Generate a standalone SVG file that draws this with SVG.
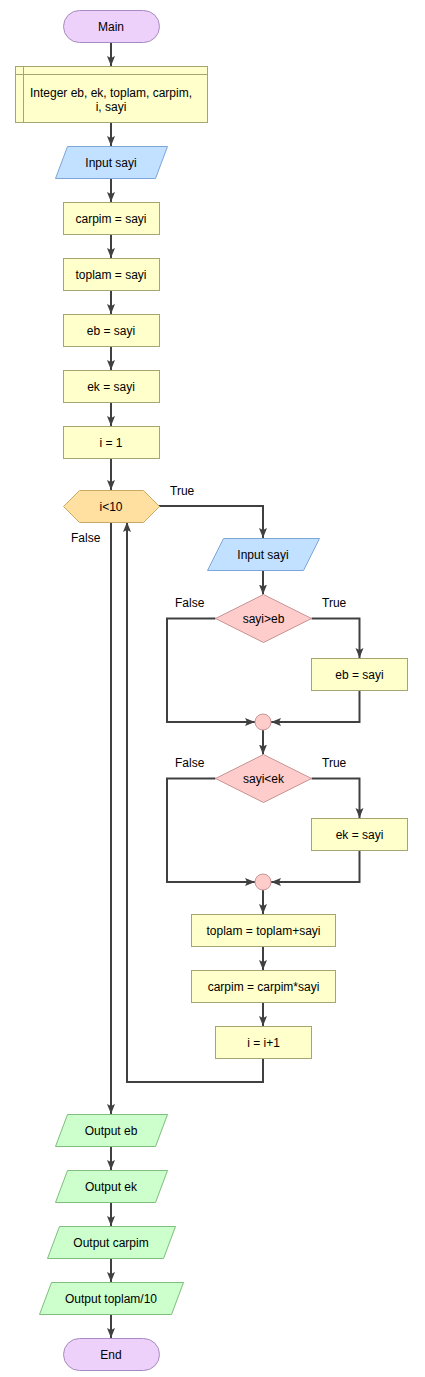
<svg xmlns="http://www.w3.org/2000/svg" width="425" height="1377" viewBox="0 0 425 1377">
<style>
text{font-family:"Liberation Sans",Arial,sans-serif;font-size:12px;fill:#000}
.c{text-anchor:middle}
.term{fill:#EDD1FB;stroke:#A88BBE;stroke-width:1}
.proc{fill:#FFFFCC;stroke:#A5A573;stroke-width:1}
.in{fill:#C2E0FF;stroke:#7BA6D8;stroke-width:1}
.out{fill:#CCFFCC;stroke:#7DBE7D;stroke-width:1}
.dec{fill:#FFCCCC;stroke:#C99494;stroke-width:1}
.loop{fill:#FFE0A0;stroke:#C9A966;stroke-width:1}
.conn{fill:none;stroke:#404040;stroke-width:2;marker-end:url(#ah)}
</style>
<defs>
<marker id="ah" markerWidth="10" markerHeight="10" refX="10" refY="5" orient="auto" markerUnits="userSpaceOnUse">
<path d="M0,1 L10,5 L0,9 L2,5 z" fill="#404040"/>
</marker>
</defs>
<g id="connectors">
<polyline class="conn" points="111,42 111,66"/>
<polyline class="conn" points="111,122 111,146"/>
<polyline class="conn" points="111,178 111,202"/>
<polyline class="conn" points="111,234 111,258"/>
<polyline class="conn" points="111,290 111,314"/>
<polyline class="conn" points="111,346 111,370"/>
<polyline class="conn" points="111,402 111,426"/>
<polyline class="conn" points="111,458 111,490"/>
<polyline class="conn" points="159,506 263,506 263,538"/>
<polyline class="conn" points="263,570 263,594.5"/>
<polyline class="conn" points="215.5,618.5 167,618.5 167,722 255,722"/>
<polyline class="conn" points="311.5,618.5 359.5,618.5 359.5,658"/>
<polyline class="conn" points="359.5,690 359.5,722 271,722"/>
<polyline class="conn" points="263,730 263,754.5"/>
<polyline class="conn" points="215.5,778.5 167,778.5 167,882 255,882"/>
<polyline class="conn" points="311.5,778.5 359.5,778.5 359.5,818"/>
<polyline class="conn" points="359.5,850 359.5,882 271,882"/>
<polyline class="conn" points="263,890 263,914"/>
<polyline class="conn" points="263,946 263,970"/>
<polyline class="conn" points="263,1002 263,1026"/>
<polyline class="conn" points="263,1058 263,1082 127,1082 127,522"/>
<polyline class="conn" points="111,522 111,1114"/>
<polyline class="conn" points="111,1146 111,1170"/>
<polyline class="conn" points="111,1202 111,1226"/>
<polyline class="conn" points="111,1258 111,1282"/>
<polyline class="conn" points="111,1314 111,1338"/>
<text x="170" y="495">True</text>
<text x="71" y="542">False</text>
<text x="175" y="607">False</text>
<text x="322" y="607">True</text>
<text x="175" y="767">False</text>
<text x="322" y="767">True</text>
</g>
<g id="main"><rect class="term" x="63.5" y="10.5" width="96" height="32" rx="16"/><text class="c" x="111" y="30.5">Main</text></g>
<g id="decl"><rect class="proc" x="15.5" y="66.5" width="192" height="56"/><line class="proc" x1="23.5" y1="66.5" x2="23.5" y2="122.5"/><line class="proc" x1="15.5" y1="74.5" x2="207.5" y2="74.5"/><text class="c" x="111" y="97">Integer eb, ek, toplam, carpim,</text><text class="c" x="111" y="111">i, sayi</text></g>
<g id="input1"><polygon class="in" points="67.5,146.5 167.5,146.5 155.5,178.5 55.5,178.5"/><text class="c" x="111" y="166.5">Input sayi</text></g>
<g id="carpim1"><rect class="proc" x="63.5" y="202.5" width="96" height="32"/><text class="c" x="111" y="222.5">carpim = sayi</text></g>
<g id="toplam1"><rect class="proc" x="63.5" y="258.5" width="96" height="32"/><text class="c" x="111" y="278.5">toplam = sayi</text></g>
<g id="eb1"><rect class="proc" x="63.5" y="314.5" width="96" height="32"/><text class="c" x="111" y="334.5">eb = sayi</text></g>
<g id="ek1"><rect class="proc" x="63.5" y="370.5" width="96" height="32"/><text class="c" x="111" y="390.5">ek = sayi</text></g>
<g id="i1"><rect class="proc" x="63.5" y="426.5" width="96" height="32"/><text class="c" x="111" y="446.5">i = 1</text></g>
<g id="loop"><polygon class="loop" points="63.5,506.5 79.5,490.5 143.5,490.5 159.5,506.5 143.5,522.5 79.5,522.5"/><text class="c" x="111" y="510.5">i&lt;10</text></g>
<g id="input2"><polygon class="in" points="223.5,538.5 319.5,538.5 303.5,570.5 207.5,570.5"/><text class="c" x="263" y="558.5">Input sayi</text></g>
<g id="dec1"><polygon class="dec" points="263.5,594.5 311.5,618.5 263.5,642.5 215.5,618.5"/><text class="c" x="263.5" y="622.5">sayi&gt;eb</text></g>
<g id="eb2"><rect class="proc" x="311.5" y="658.5" width="96" height="32"/><text class="c" x="359.5" y="678.5">eb = sayi</text></g>
<g id="join1"><circle class="dec" cx="263" cy="722" r="8"/></g>
<g id="dec2"><polygon class="dec" points="263.5,754.5 311.5,778.5 263.5,802.5 215.5,778.5"/><text class="c" x="263.5" y="782.5">sayi&lt;ek</text></g>
<g id="ek2"><rect class="proc" x="311.5" y="818.5" width="96" height="32"/><text class="c" x="359.5" y="838.5">ek = sayi</text></g>
<g id="join2"><circle class="dec" cx="263" cy="882" r="8"/></g>
<g id="toplam2"><rect class="proc" x="191.5" y="914.5" width="144" height="32"/><text class="c" x="263.5" y="934.5">toplam = toplam+sayi</text></g>
<g id="carpim2"><rect class="proc" x="191.5" y="970.5" width="144" height="32"/><text class="c" x="263.5" y="990.5">carpim = carpim*sayi</text></g>
<g id="inc"><rect class="proc" x="215.5" y="1026.5" width="96" height="32"/><text class="c" x="263.5" y="1046.5">i = i+1</text></g>
<g id="out1"><polygon class="out" points="67.5,1114.5 167.5,1114.5 155.5,1146.5 55.5,1146.5"/><text class="c" x="111" y="1134.5">Output eb</text></g>
<g id="out2"><polygon class="out" points="67.5,1170.5 167.5,1170.5 155.5,1202.5 55.5,1202.5"/><text class="c" x="111" y="1190.5">Output ek</text></g>
<g id="out3"><polygon class="out" points="59.5,1226.5 175.5,1226.5 163.5,1258.5 47.5,1258.5"/><text class="c" x="111" y="1246.5">Output carpim</text></g>
<g id="out4"><polygon class="out" points="51.5,1282.5 183.5,1282.5 171.5,1314.5 39.5,1314.5"/><text class="c" x="111" y="1302.5">Output toplam/10</text></g>
<g id="end"><rect class="term" x="63.5" y="1338.5" width="96" height="32" rx="16"/><text class="c" x="111" y="1358.5">End</text></g>
</svg>
